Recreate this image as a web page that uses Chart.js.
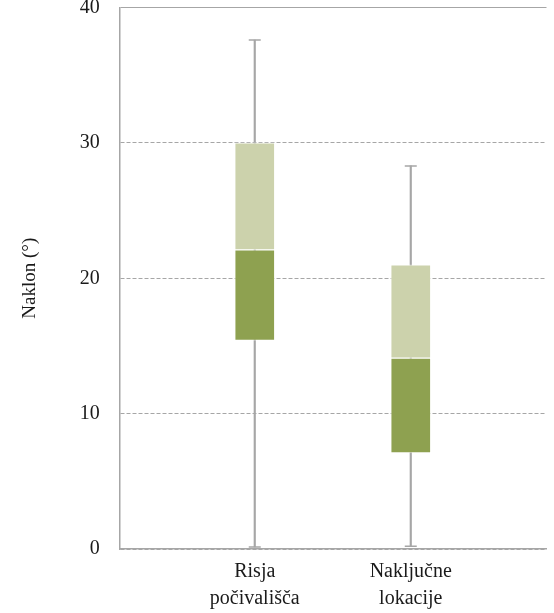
<!DOCTYPE html>
<html>
<head>
<meta charset="utf-8">
<script src="https://cdn.jsdelivr.net/npm/chart.js@4"></script>
<style>
  body { margin: 0; background: #fff; }
</style>
</head>
<body>
<canvas id="slopeChart" width="554" height="613"></canvas>
<script>
// data
const categories = [['Risja', 'počivališča'], ['Naključne', 'lokacije']];
const whiskerMin = [0.15, 0.2];
const q1 = [15.4, 7.1];
const median = [22.1, 14.1];
const q3 = [30.0, 21.0];
const whiskerMax = [37.6, 28.3];
const yTicks = [0, 10, 20, 30, 40];

const serif = 'Liberation Serif';
const grey = '#a6a6a6';

const idx = categories.map((c, i) => i);

// Slope box chart
const slopeCtx = document.getElementById('slopeChart').getContext('2d');
const slopeChart = new Chart(slopeCtx, {
    type: 'bar',
    data: {
        datasets: [{
            // whiskers
            data: idx.map(i => ({ x: i, y: [whiskerMin[i], whiskerMax[i]] })),
            backgroundColor: grey,
            barThickness: 1.5,
            grouped: false,
            order: 2
        }, {
            // lower half of box
            data: idx.map(i => ({ x: i, y: [q1[i], median[i]] })),
            backgroundColor: '#8ea150',
            borderColor: 'rgba(255,255,255,0.5)',
            borderWidth: 1,
            borderSkipped: false,
            barThickness: 40,
            grouped: false,
            order: 1
        }, {
            // upper half of box
            data: idx.map(i => ({ x: i, y: [median[i], q3[i]] })),
            backgroundColor: '#ccd2ac',
            borderColor: 'rgba(255,255,255,0.6)',
            borderWidth: 1,
            borderSkipped: false,
            barThickness: 40,
            grouped: false,
            order: 1
        }, {
            // whisker caps
            type: 'scatter',
            data: idx.flatMap(i => [{ x: i, y: whiskerMin[i] }, { x: i, y: whiskerMax[i] }]),
            pointStyle: 'line',
            pointRadius: 6,
            borderColor: grey,
            borderWidth: 1.5,
            order: 0
        }]
    },
    options: {
        responsive: false,
        animation: false,
        devicePixelRatio: 1,
        layout: { padding: { top: 0, right: 3, bottom: -8, left: 0 } },
        plugins: {
            legend: { display: false },
            tooltip: { enabled: false }
        },
        scales: {
            x: {
                type: 'linear',
                min: -0.865,
                max: 1.87,
                offset: false,
                grid: { display: false, offset: false, drawTicks: false },
                border: { color: grey, width: 1.5 },
                afterBuildTicks: (scale) => {
                    scale.ticks = idx.map(i => ({ value: i }));
                },
                afterFit: (scale) => {
                    scale.paddingLeft = 0;
                    scale.paddingRight = 0;
                },
                ticks: {
                    autoSkip: false,
                    maxRotation: 0,
                    padding: 9,
                    color: '#1a1a1a',
                    font: { family: serif, size: 20, lineHeight: 1.35 },
                    callback: (v) => categories[v]
                }
            },
            y: {
                min: 0,
                max: 40,
                afterBuildTicks: (scale) => {
                    scale.ticks = yTicks.map(v => ({ value: v }));
                },
                afterFit: (scale) => {
                    scale.paddingTop = 0;
                    scale.paddingBottom = 0;
                },
                grid: { color: grey, lineWidth: 1, drawTicks: false },
                border: {
                    color: grey,
                    width: 1.5,
                    dash: (ctx) => (ctx.tick && ctx.tick.value === 40) ? [] : [4, 2]
                },
                ticks: {
                    padding: 20,
                    color: '#1a1a1a',
                    font: { family: serif, size: 20 }
                },
                title: {
                    display: true,
                    text: 'Naklon (°)',
                    color: '#1a1a1a',
                    font: { family: serif, size: 19 },
                    padding: { top: 19, bottom: 18 }
                }
            }
        }
    }
});
</script>
</body>
</html>
